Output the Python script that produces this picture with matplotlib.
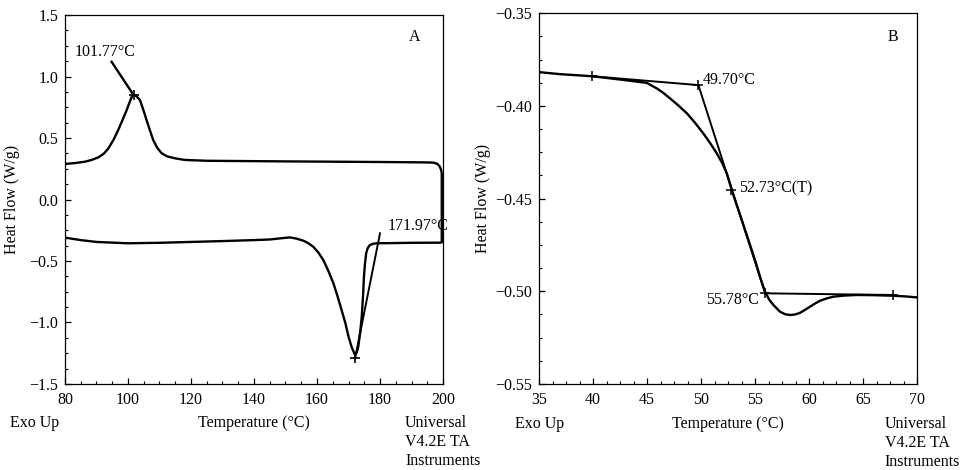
import matplotlib.pyplot as plt
from matplotlib.ticker import MultipleLocator, FuncFormatter

plt.rcParams['font.family'] = ['Liberation Serif', 'DejaVu Serif']
plt.rcParams['font.size'] = 11.5

# panel A - upper trace (exo peak) and lower trace (melting)
a_up_t = [80, 83, 86.3, 88.5, 90.6, 92.3, 93.8, 95.4, 96.9, 98.3, 99.6, 100.5, 101.2, 101.77, 102.6,
          103.8, 104.8, 105.9, 107, 108, 109.3, 110.7, 112.5, 114.9, 118, 125, 150, 180, 194, 196.9,
          198.2, 199.0, 199.4, 199.6, 199.6]
a_up_q = [0.289, 0.296, 0.307, 0.322, 0.343, 0.372, 0.416, 0.485, 0.565, 0.648, 0.728, 0.79, 0.836, 0.85,
          0.842, 0.809, 0.735, 0.646, 0.56, 0.484, 0.42, 0.376, 0.35, 0.335, 0.322, 0.315, 0.31, 0.305,
          0.302, 0.30, 0.29, 0.267, 0.24, 0.213, -0.345]
a_lo_t = [80, 85, 90, 100, 110, 120, 130, 140, 145, 148.3, 151.4, 153.5, 155.7, 157.3, 158.8, 160.4, 162.0,
          163.6, 165.2, 166.5, 167.8, 169.0, 170.0, 171.0, 172.06, 172.6, 173.1, 173.7, 174.2, 174.6,
          174.9, 175.2, 175.6, 176.1, 176.8, 177.8, 178.9, 190, 199.2, 199.6]
a_lo_q = [-0.31, -0.33, -0.345, -0.356, -0.352, -0.345, -0.338, -0.33, -0.325, -0.316, -0.308, -0.318,
          -0.335, -0.356, -0.384, -0.43, -0.492, -0.58, -0.681, -0.785, -0.898, -1.005, -1.115, -1.2,
          -1.264, -1.245, -1.197, -1.08, -0.953, -0.79, -0.628, -0.53, -0.437, -0.395, -0.37, -0.36,
          -0.356, -0.352, -0.351, -0.345]
a_tan_t = [172.1, 180]
a_tan_q = [-1.29, -0.275]
a_arrow_t = [94.8, 101.77]
a_arrow_q = [1.12, 0.85]

# panel B - glass transition
b_t = [35, 36.94, 39.88, 42.5, 44.97, 45.9, 46.5, 47.13, 47.9, 48.68, 49.45, 50.21, 50.85, 51.45, 51.95,
       52.38, 52.84, 53.3, 53.77, 54.23, 54.69, 55.1, 55.46, 55.7, 55.93, 56.3, 56.7, 57.3, 57.8, 58.24,
       58.7, 59.17, 59.6, 60.09, 60.55, 61.02, 61.6, 62.25, 63.3, 64.42, 66, 67.8, 69, 69.97]
b_q = [-0.3818, -0.3829, -0.384, -0.3858, -0.3876, -0.3906, -0.393, -0.396, -0.3998, -0.404, -0.4092,
       -0.4149, -0.4202, -0.4256, -0.4308, -0.4364, -0.4454, -0.4535, -0.4616, -0.4697, -0.4778,
       -0.4852, -0.4922, -0.4965, -0.5002, -0.5045, -0.5074, -0.511, -0.5124, -0.5128, -0.5125,
       -0.5116, -0.5101, -0.5083, -0.5066, -0.5051, -0.5039, -0.5029, -0.5023, -0.502, -0.5021,
       -0.5024, -0.5028, -0.5033]
b_tan1_t = [39.88, 49.75]
b_tan1_q = [-0.384, -0.3888]
b_tan2_t = [49.75, 55.93]
b_tan2_q = [-0.3888, -0.5011]
b_tan3_t = [55.93, 67.8]
b_tan3_q = [-0.5011, -0.502]
b_mark_t = [39.88, 49.75, 52.73, 55.93, 67.8]
b_mark_q = [-0.384, -0.3888, -0.4454, -0.5011, -0.502]


def minus(fmt):
    return FuncFormatter(lambda v, p: (fmt % v).replace('-', '\u2212'))


def style(ax):
    ax.tick_params(which='both', direction='in', top=False, right=False, colors='black')
    ax.tick_params(which='major', length=4, width=0.9)
    ax.tick_params(which='minor', length=2.5, width=0.8)
    ax.tick_params(axis='x', which='major', pad=6)
    ax.tick_params(axis='y', which='major', pad=5)
    for s in ax.spines.values():
        s.set_linewidth(0.9)


fig = plt.figure(figsize=(9.61, 4.70), dpi=100)
axA = fig.add_axes([0.0676, 0.183, 0.3934, 0.785])
axB = fig.add_axes([0.561, 0.183, 0.3933, 0.789])

# ---- A
axA.plot(a_up_t, a_up_q, color='black', lw=1.7)
axA.plot(a_lo_t, a_lo_q, color='black', lw=1.7)
axA.plot(a_tan_t, a_tan_q, color='black', lw=1.4)
axA.plot(a_arrow_t, a_arrow_q, color='black', lw=1.7)
axA.plot([101.77, 172.06], [0.85, -1.285], '+', color='black', ms=7, mew=1.2)
axA.set_xlim(80, 200)
axA.set_ylim(-1.5, 1.5)
axA.xaxis.set_major_locator(MultipleLocator(20))
axA.xaxis.set_minor_locator(MultipleLocator(5))
axA.yaxis.set_major_locator(MultipleLocator(0.5))
axA.yaxis.set_minor_locator(MultipleLocator(0.125))
axA.yaxis.set_major_formatter(minus('%.1f'))
style(axA)
axA.set_ylabel('Heat Flow (W/g)')
axA.yaxis.set_label_coords(-0.119, 0.5)
axA.text(83.2, 1.2, '101.77°C', ha='left', va='center')
axA.text(182.3, -0.215, '171.97°C', ha='left', va='center')
axA.text(191, 1.32, 'A', ha='center', va='center')

# ---- B
axB.plot(b_t, b_q, color='black', lw=1.7)
axB.plot(b_tan1_t, b_tan1_q, color='black', lw=1.4)
axB.plot(b_tan2_t, b_tan2_q, color='black', lw=1.4)
axB.plot(b_tan3_t, b_tan3_q, color='black', lw=1.4)
axB.plot(b_mark_t, b_mark_q, '+', color='black', ms=7, mew=1.1)
axB.set_xlim(35, 70)
axB.set_ylim(-0.55, -0.35)
axB.xaxis.set_major_locator(MultipleLocator(5))
axB.xaxis.set_minor_locator(MultipleLocator(1.25))
axB.yaxis.set_major_locator(MultipleLocator(0.05))
axB.yaxis.set_minor_locator(MultipleLocator(0.0125))
axB.yaxis.set_major_formatter(minus('%.2f'))
style(axB)
axB.set_ylabel('Heat Flow (W/g)')
axB.yaxis.set_label_coords(-0.128, 0.5)
axB.text(50.15, -0.386, '49.70°C', ha='left', va='center')
axB.text(53.55, -0.4444, '52.73°C(T)', ha='left', va='center')
axB.text(55.4, -0.5047, '55.78°C', ha='right', va='center')
axB.text(67.8, -0.363, 'B', ha='center', va='center')

# footer texts
for ax, xe, xu in [(axA, -0.146, 0.9), (axB, -0.0635, 0.915)]:
    ax.text(xe, -0.085, 'Exo Up', transform=ax.transAxes, ha='left', va='top')
    ax.text(0.5, -0.085, 'Temperature (°C)', transform=ax.transAxes, ha='center', va='top')
    ax.text(xu, -0.085, 'Universal\nV4.2E TA\nInstruments', transform=ax.transAxes, ha='left', va='top',
            linespacing=1.25)

fig.savefig('out.png', dpi=100)
